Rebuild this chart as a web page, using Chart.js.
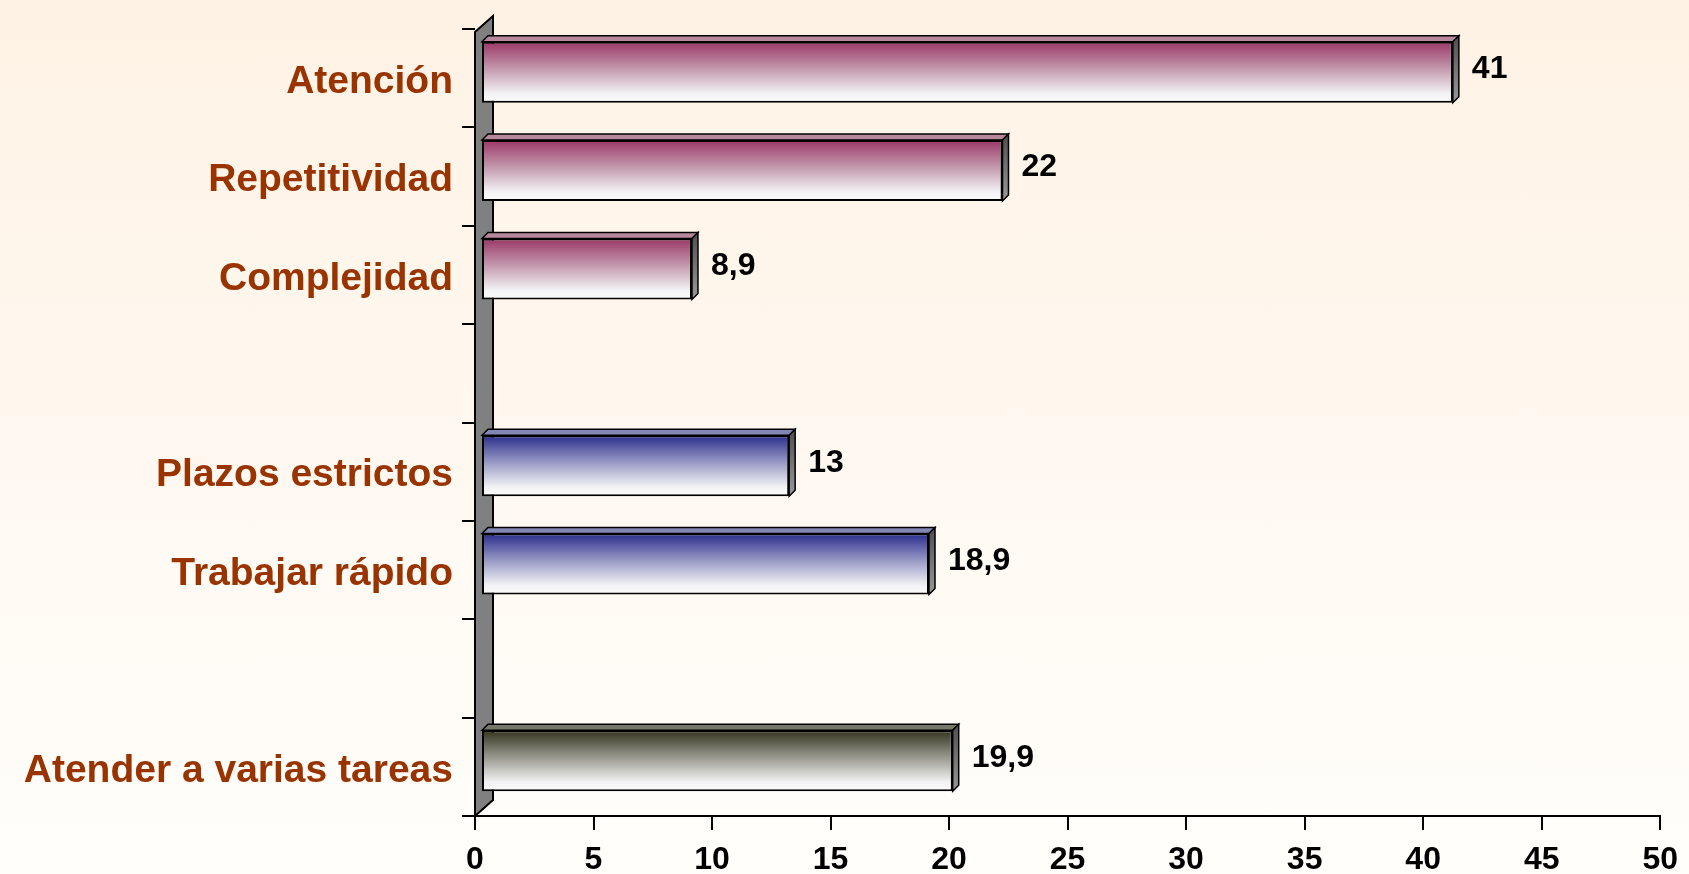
<!DOCTYPE html>
<html>
<head>
<meta charset="utf-8">
<script src="https://cdn.jsdelivr.net/npm/chart.js@4/dist/chart.umd.min.js"></script>
<style>
  html, body { margin: 0; padding: 0; }
  #wrap {
    width: 1689px; height: 874px; position: relative;
    background: linear-gradient(to bottom, #fef2e4 0%, #fff8f0 50%, #fffefb 100%);
  }
</style>
</head>
<body>
<div id="wrap"><canvas id="chart"></canvas></div>
<script>
// categories (blank entries are the gaps between groups)
var categories = ["Atención", "Repetitividad", "Complejidad", "", "Plazos estrictos", "Trabajar rápido", "", "Atender a varias tareas"];
var values = [41, 22, 8.9, null, 13, 18.9, null, 19.9];
var groups = ["maroon", "maroon", "maroon", null, "navy", "navy", null, "dark"];
var xTicks = [0, 5, 10, 15, 20, 25, 30, 35, 40, 45, 50];

var palette = {
    maroon: { top: "#9a3767", mid: "#c49aae", face: "#b7879c" },
    navy:   { top: "#2a2c8c", mid: "#9a9bc6", face: "#8486b4" },
    dark:   { top: "#33331f", mid: "#9a9a90", face: "#77776a" }
};

var depth = 6;     // bar 3D depth
var shift = { x: 6, y: -6 };
var fontFamily = "'Liberation Sans', Arial, sans-serif";

function barGradient(context) {
    var chart = context.chart;
    var area = chart.chartArea;
    var g = palette[groups[context.dataIndex]] || palette.maroon;
    if (!area || !chart.scales.y) return g.top;
    var slot = (area.bottom - area.top) / categories.length;
    var half = slot * 0.62 / 2;
    var cy = chart.scales.y.getPixelForValue(context.dataIndex);
    var grad = chart.ctx.createLinearGradient(0, cy - half, 0, cy + half);
    grad.addColorStop(0, g.top);
    grad.addColorStop(0.45, g.mid);
    grad.addColorStop(0.85, "#f3f3f5");
    grad.addColorStop(1, "#fbfbfb");
    return grad;
}

var wallPlugin = {
    id: "wall",
    beforeDatasetsDraw: function (chart) {
        var c = chart.ctx, a = chart.chartArea;
        c.save();
        c.beginPath();
        c.moveTo(a.left, a.top + 3);
        c.lineTo(a.left + 18, a.top - 13);
        c.lineTo(a.left + 18, a.bottom - 16);
        c.lineTo(a.left, a.bottom);
        c.closePath();
        c.fillStyle = "#808080";
        c.fill();
        c.lineWidth = 2;
        c.strokeStyle = "#000";
        c.stroke();
        c.restore();

        c.save();
        c.translate(shift.x, shift.y);
    },
    afterDatasetsDraw: function (chart) {
        var c = chart.ctx;
        var meta = chart.getDatasetMeta(0);
        meta.data.forEach(function (bar, i) {
            if (values[i] == null) return;
            var g = palette[groups[i]];
            var p = bar.getProps(["x", "y", "base", "height"], true);
            var top = p.y - p.height / 2, bottom = p.y + p.height / 2;
            c.lineWidth = 1.5;
            c.strokeStyle = "#000";
            // top face
            c.beginPath();
            c.moveTo(p.base, top);
            c.lineTo(p.x, top);
            c.lineTo(p.x + depth, top - depth);
            c.lineTo(p.base + depth, top - depth);
            c.closePath();
            c.fillStyle = g.face;
            c.fill();
            c.stroke();
            // right face
            var sg = c.createLinearGradient(0, top, 0, bottom);
            sg.addColorStop(0, "#555555");
            sg.addColorStop(1, "#9a9a9a");
            c.beginPath();
            c.moveTo(p.x, top);
            c.lineTo(p.x + depth, top - depth);
            c.lineTo(p.x + depth, bottom - depth);
            c.lineTo(p.x, bottom);
            c.closePath();
            c.fillStyle = sg;
            c.fill();
            c.stroke();
            // value label
            c.fillStyle = "#000";
            c.font = "bold 32px " + fontFamily;
            c.textAlign = "left";
            c.textBaseline = "middle";
            c.fillText(String(values[i]).replace(".", ","), p.x + depth + 13, p.y - 3);
        });
        c.restore();
    }
};

new Chart(document.getElementById("chart"), {
    type: "bar",
    data: {
        labels: categories,
        datasets: [{
            data: values,
            backgroundColor: barGradient,
            borderColor: "#000",
            borderWidth: 2,
            borderSkipped: false,
            categoryPercentage: 1,
            barPercentage: 0.62
        }]
    },
    options: {
        indexAxis: "y",
        responsive: true,
        maintainAspectRatio: false,
        animation: false,
        layout: { padding: { top: 29, right: 26, left: 0, bottom: 0 } },
        plugins: {
            legend: { display: false },
            tooltip: { enabled: false }
        },
        scales: {
            x: {
                min: xTicks[0],
                max: xTicks[xTicks.length - 1],
                afterBuildTicks: function (s) {
                    s.ticks = xTicks.map(function (v) { return { value: v }; });
                },
                afterFit: function (s) { s.height = 58; },
                grid: { drawOnChartArea: false, color: "#000", lineWidth: 2, tickLength: 14 },
                border: { display: true, color: "#000", width: 2 },
                ticks: {
                    color: "#000",
                    padding: 11,
                    maxRotation: 0,
                    font: { family: fontFamily, size: 32, weight: "bold" }
                }
            },
            y: {
                afterFit: function (s) {
                    s.width = 475;
                    s.paddingTop = 0;
                    s.paddingBottom = 0;
                },
                grid: { drawOnChartArea: false, color: "#000", lineWidth: 2, tickLength: 13, offset: true },
                border: { display: false },
                ticks: {
                    color: "#993300",
                    padding: 9,
                    labelOffset: 4,
                    font: { family: fontFamily, size: 39, weight: "bold" }
                }
            }
        }
    },
    plugins: [wallPlugin]
});
</script>
</body>
</html>
